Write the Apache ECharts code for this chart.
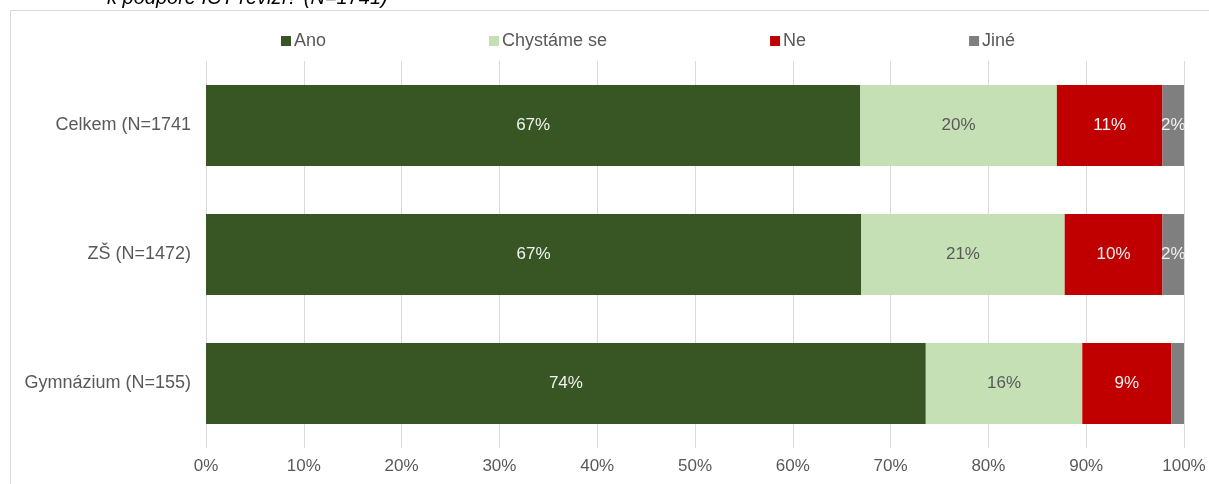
<!DOCTYPE html>
<html>
<head>
<meta charset="utf-8">
<script src="https://cdn.jsdelivr.net/npm/echarts@6/dist/echarts.min.js"></script>
<style>
  html, body { margin: 0; padding: 0; background: #fff; }
  #chart { width: 1209px; height: 484px; }
</style>
</head>
<body>
<div id="chart"></div>
<script>
// categories (top to bottom)
const categories = ['Celkem (N=1741', 'ZŠ (N=1472)', 'Gymnázium (N=155)']
const seriesNames = ['Ano', 'Chystáme se', 'Ne', 'Jiné']

// shares in percent
const ano = [66.9, 67.0, 73.6]
const chystame = [20.1, 20.8, 16.0]
const ne = [10.8, 10.0, 9.1]
const jine = [2.2, 2.2, 1.3]

const xTicks = [0, 10, 20, 30, 40, 50, 60, 70, 80, 90, 100]

const colors = ['#375623', '#c5e0b4', '#c00000', '#7f7f7f']
const labelColors = ['#f2f2f2', '#595959', '#f2f2f2', '#f2f2f2']
const font = 'Liberation Sans, Arial, sans-serif'

const chart = echarts.init(document.getElementById('chart'))

const series = [ano, chystame, ne, jine].map((data, i) => ({
  name: seriesNames[i],
  type: 'bar',
  stack: 'total',
  barWidth: 81,
  data: data,
  itemStyle: { color: colors[i] },
  label: {
    show: true,
    position: 'inside',
    color: labelColors[i],
    fontFamily: font,
    fontSize: 17,
    formatter: p => p.value < 1.5 ? '' : Math.round(p.value) + '%'
  },
  emphasis: { disabled: true }
}))

chart.setOption({
  animation: false,
  textStyle: { fontFamily: font },
  graphic: [
    {
      type: 'rect',
      shape: { x: 10.5, y: 10.5, width: 1300, height: 600 },
      style: { fill: 'none', stroke: '#d9d9d9', lineWidth: 1 },
      silent: true
    },
    {
      type: 'text',
      left: 107,
      top: -12,
      style: {
        text: 'k podpoře ICT revizí? (N=1741)',
        fontFamily: font,
        fontStyle: 'italic',
        fontSize: 20,
        fill: '#000'
      }
    }
  ],
  legend: {
    data: seriesNames,
    left: 276,
    top: 27,
    itemWidth: 10,
    itemHeight: 10,
    itemGap: 163,
    icon: 'rect',
    textStyle: { color: '#595959', fontSize: 18, fontFamily: font, padding: [0, 0, 0, -2] }
  },
  grid: {
    left: 206,
    right: 25,
    top: 61,
    bottom: 36,
    containLabel: false
  },
  xAxis: {
    type: 'value',
    min: xTicks[0],
    max: xTicks[xTicks.length - 1],
    interval: 10,
    axisLine: { show: false },
    axisTick: { show: false },
    splitLine: { show: true, lineStyle: { color: '#d9d9d9', width: 1 } },
    axisLabel: {
      color: '#595959',
      fontSize: 17,
      margin: 10,
      formatter: v => v + '%'
    }
  },
  yAxis: {
    type: 'category',
    inverse: true,
    data: categories,
    axisLine: { show: false },
    axisTick: { show: false },
    axisLabel: {
      color: '#595959',
      fontSize: 18,
      margin: 15
    }
  },
  series: series
})
</script>
</body>
</html>
